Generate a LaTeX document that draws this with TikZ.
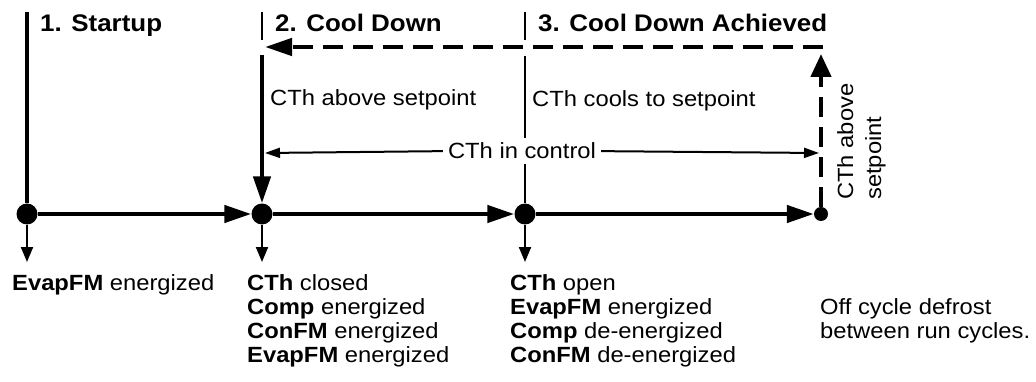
\documentclass[tikz,border=0pt]{standalone}
\usepackage{fontspec}
\setmainfont{Liberation Sans}[FakeStretch=1.08]
\usetikzlibrary{arrows.meta}
\begin{document}
\begin{tikzpicture}[x=1pt,y=-1pt,
  dot/.style={circle,fill=black,inner sep=0pt,minimum size=21pt},
  smalldot/.style={circle,fill=black,inner sep=0pt,minimum size=14pt},
  thickline/.style={line width=4.5pt},
  thinline/.style={line width=2pt},
  bigarrow/.style={line width=4.5pt,-{Triangle[length=27pt,width=17pt]}},
  smallarrow/.style={line width=2pt,-{Triangle[length=15pt,width=12pt]}},
  ctlarrow/.style={line width=2pt,-{Triangle[length=15pt,width=10pt]}},
  dashline/.style={line width=4.5pt,dash pattern=on 20pt off 10pt},
  txt/.style={inner sep=0pt,anchor=base west,font=\fontsize{22}{24}\selectfont},
  head/.style={inner sep=0pt,anchor=base west,font=\fontsize{24}{26}\selectfont\bfseries},
]
\useasboundingbox (0,0) rectangle (1036,382);

% dots
\node[dot] (A) at (27,214) {};
\node[dot] (B) at (262,214) {};
\node[dot] (C) at (525,214) {};
\node[smalldot] (D) at (821,214) {};

% helper coordinates
\coordinate (a0) at (27,12);
\coordinate (b0) at (262,12);
\coordinate (b1) at (262,40);
\coordinate (b2) at (262,55);
\coordinate (b3) at (265,47);
\coordinate (c0) at (525,12);
\coordinate (c1) at (525,40);
\coordinate (c2) at (525,56);
\coordinate (d1) at (821,54);
\coordinate (d2) at (823,47);
\coordinate (a9) at (27,262);
\coordinate (b9) at (262,262);
\coordinate (c9) at (525,262);
\coordinate (lctl) at (265,153);
\coordinate (rctl) at (819,153);

% vertical phase lines
\draw[thickline] (a0) -- (A);
\draw[thinline] (b0) -- (b1);
\draw[bigarrow] (b2) -- (B);
\draw[thinline] (c0) -- (c1);
\draw[thinline] (c2) -- (C);

% horizontal timeline
\draw[bigarrow] (A) -- (B);
\draw[bigarrow] (B) -- (C);
\draw[bigarrow] (C) -- (D);

% down arrows
\draw[smallarrow] (A) -- (a9);
\draw[smallarrow] (B) -- (b9);
\draw[smallarrow] (C) -- (c9);

% dashed return path
\draw[dashline,-{Triangle[length=23pt,width=20pt]}] (D) -- (d1);
\draw[dashline,-{Triangle[length=27pt,width=17pt]}] (d2) -- (b3);

% CTh in control
\node[txt,anchor=base,fill=white,inner sep=5pt] (ctl) at (522,159) {CTh in control};
\draw[ctlarrow] (ctl.west) -- (lctl);
\draw[ctlarrow] (ctl.east) -- (rctl);

% headings
\node[head] (h1) at (40,32) {1. Startup};
\node[head] (h2) at (275,32) {2. Cool Down};
\node[head] (h3) at (538,32) {3. Cool Down Achieved};

% side labels
\node[txt] (s2) at (270,106) {CTh above setpoint};
\node[txt] (s3) at (532,107) {CTh cools to setpoint};
\node[txt,rotate=90] (s4a) at (853,200) {CTh above};
\node[txt,rotate=90] (s4b) at (881,200) {setpoint};

% bottom texts
\node[txt] (e1) at (12,290) {\textbf{EvapFM} energized};

\node[txt] (f1) at (247,290) {\textbf{CTh} closed};
\node[txt] (f2) at (247,314) {\textbf{Comp} energized};
\node[txt] (f3) at (247,338) {\textbf{ConFM} energized};
\node[txt] (f4) at (247,362) {\textbf{EvapFM} energized};

\node[txt] (g1) at (510,290) {\textbf{CTh} open};
\node[txt] (g2) at (510,314) {\textbf{EvapFM} energized};
\node[txt] (g3) at (510,338) {\textbf{Comp} de-energized};
\node[txt] (g4) at (510,362) {\textbf{ConFM} de-energized};

\node[txt] (o1) at (820,314) {Off cycle defrost};
\node[txt] (o2) at (820,338) {between run cycles.};
\end{tikzpicture}
\end{document}
